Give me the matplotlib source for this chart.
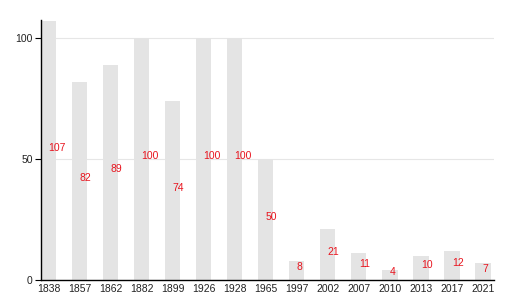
import matplotlib
matplotlib.use("Agg")
import matplotlib.pyplot as plt

years = ["1838", "1857", "1862", "1882", "1899", "1926", "1928", "1965",
         "1997", "2002", "2007", "2010", "2013", "2017", "2021"]
values = [107, 82, 89, 100, 74, 100, 100, 50, 8, 21, 11, 4, 10, 12, 7]
yticks = [0, 50, 100]

plt.rcParams['font.family'] = ['Liberation Sans', 'DejaVu Sans']

fig = plt.figure(figsize=(5.3, 3.0), dpi=100)
ax = fig.add_axes([41/530, 20/300, (494-41)/530, (280-20)/300])

x = list(range(len(years)))
ax.bar(x, values, width=0.5, color="#e4e4e4", zorder=2)
for xi, v in zip(x, values):
    ax.text(xi, v/2, str(v), color="#e8141e", fontsize=7.5,
            ha="left", va="baseline", zorder=3)

ax.set_xlim(-0.24, 14.36)
ax.set_ylim(0, 107.6)
ax.set_yticks(yticks)
ax.set_xticks(x)
ax.set_xticklabels(years)
ax.yaxis.grid(True, color="#e6e6e6", linewidth=0.8, zorder=0)
ax.set_axisbelow(True)
for s in ["top", "right"]:
    ax.spines[s].set_visible(False)
ax.spines["left"].set_linewidth(1.0)
ax.spines["bottom"].set_linewidth(1.0)
ax.tick_params(axis="x", length=0, pad=3, labelsize=7.5, colors="#222222")
ax.tick_params(axis="y", length=4, pad=2, labelsize=7.5, colors="#222222")
for lbl in ax.get_xticklabels() + ax.get_yticklabels():
    lbl.set_color("#222222")
ax.tick_params(axis="both", color="black")

fig.savefig("out.png", dpi=100)
